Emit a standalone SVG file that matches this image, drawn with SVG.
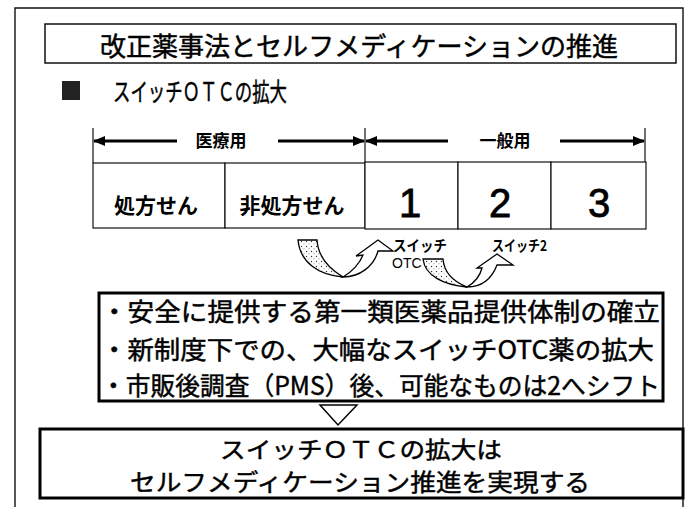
<svg xmlns="http://www.w3.org/2000/svg" width="686" height="507" viewBox="0 0 686 507">
<style>
.jp{font-family:'Noto Sans CJK JP','Noto Sans CJK SC',sans-serif;fill:#000}
.med{stroke:#000;stroke-width:0.45}
.frame{fill:none;stroke:#111;stroke-width:1.4}
.cell{fill:#fff;stroke:#111;stroke-width:1.2}
.thick{fill:#fff;stroke:#000;stroke-width:3}
.arr{stroke:#000;stroke-width:3;fill:none}
.sw{stroke:#000;stroke-width:1.3}
.num{font-family:'Liberation Sans',Arial,sans-serif;font-size:40px;fill:#000;stroke:#000;stroke-width:0.8}
</style>
<defs>
<marker id="ah" viewBox="0 0 12 10" refX="11" refY="5" markerWidth="12" markerHeight="10" markerUnits="userSpaceOnUse" orient="auto-start-reverse">
<path d="M0,0 L12,5 L0,10 Z" fill="#000"/>
</marker>
<pattern id="dots" width="5" height="5" patternUnits="userSpaceOnUse">
<rect width="5" height="5" fill="#fff"/>
<circle cx="1.5" cy="1.5" r="0.7" fill="#333"/>
<circle cx="4" cy="3.8" r="0.5" fill="#666"/>
</pattern>
</defs>
<rect width="686" height="507" fill="#fff"/>
<g id="frame">
<path class="frame" d="M15,520 L15,8 L683,8 L683,520"/>
</g>
<g id="title">
<rect x="45" y="24" width="631" height="39" fill="#fff" stroke="#111" stroke-width="1.5"/>
<text class="jp med" x="359" y="56" font-size="26" text-anchor="middle" textLength="518" lengthAdjust="spacingAndGlyphs">改正薬事法とセルフメディケーションの推進</text>
</g>
<g id="subheading">
<rect x="62" y="81" width="18" height="19" fill="#222"/>
<text class="jp med" x="113" y="101" font-size="25" textLength="174" lengthAdjust="spacingAndGlyphs">スイッチＯＴＣの拡大</text>
</g>
<g id="connectors">
<line x1="93" y1="128" x2="93" y2="163" stroke="#111" stroke-width="1.2"/>
<line x1="365" y1="128" x2="365" y2="163" stroke="#111" stroke-width="1.2"/>
<line x1="645" y1="128" x2="645" y2="163" stroke="#111" stroke-width="1.2"/>
<line class="arr" x1="177" y1="141" x2="94" y2="141" marker-end="url(#ah)"/>
<line class="arr" x1="278" y1="141" x2="364" y2="141" marker-end="url(#ah)"/>
<line class="arr" x1="448" y1="141" x2="366" y2="141" marker-end="url(#ah)"/>
<line class="arr" x1="560" y1="141" x2="644" y2="141" marker-end="url(#ah)"/>
</g>
<g id="label-iryo"><text class="jp" x="221" y="147" font-size="17" font-weight="bold" text-anchor="middle">医療用</text></g>
<g id="label-ippan"><text class="jp" x="505" y="147" font-size="17" font-weight="bold" text-anchor="middle">一般用</text></g>
<g id="cell-shohosen">
<rect class="cell" x="93" y="163" width="132" height="65"/>
<text class="jp" x="156" y="213" font-size="21" font-weight="bold" text-anchor="middle">処方せん</text>
</g>
<g id="cell-hishohosen">
<rect class="cell" x="225" y="163" width="140" height="65"/>
<text class="jp" x="292" y="213" font-size="21" font-weight="bold" text-anchor="middle">非処方せん</text>
</g>
<g id="cell-1">
<rect class="cell" x="365" y="162" width="93" height="67"/>
<text class="num" x="410" y="217" text-anchor="middle">1</text>
</g>
<g id="cell-2">
<rect class="cell" x="458" y="162" width="93" height="67"/>
<text class="num" x="500" y="217" text-anchor="middle">2</text>
</g>
<g id="cell-3">
<rect class="cell" x="551" y="162" width="95" height="67"/>
<text class="num" x="599" y="217" text-anchor="middle">3</text>
</g>
<g id="switch1">
<path class="sw" fill="url(#dots)" d="M298,240 L317,240 C318,256 328,268 343,277 C318,275 300,262 298,240 Z"/>
<path class="sw" fill="#fff" d="M343,277 C352,272 360,263 363,255 L356,256 L378,240 L393,251 L378,251 C374,266 360,277 343,277 Z"/>
<text class="jp" x="393" y="251" font-size="15" font-weight="bold" textLength="54" lengthAdjust="spacingAndGlyphs">スイッチ</text>
<text x="392" y="268" font-family="'Liberation Sans',Arial,sans-serif" font-size="14">OTC</text>
</g>
<g id="switch2">
<path class="sw" fill="url(#dots)" d="M423,259 L443,259 C444,272 452,281 467,287 C444,285 425,276 423,259 Z"/>
<path class="sw" fill="#fff" d="M467,287 C474,283 480,276 482,268 L477,268 L497,254 L513,265 L497,265 C492,278 482,287 467,287 Z"/>
<text class="jp" x="492" y="251" font-size="15" font-weight="bold" textLength="55" lengthAdjust="spacingAndGlyphs">スイッチ2</text>
</g>
<g id="policy-box">
<rect class="thick" x="99" y="293" width="564" height="108"/>
<text class="jp med" x="101" y="321" font-size="25" textLength="559" lengthAdjust="spacingAndGlyphs">・安全に提供する第一類医薬品提供体制の確立</text>
<text class="jp med" x="101" y="359" font-size="25" textLength="553" lengthAdjust="spacingAndGlyphs">・新制度下での、大幅なスイッチOTC薬の拡大</text>
<text class="jp med" x="101" y="395" font-size="25" textLength="559" lengthAdjust="spacingAndGlyphs">・市販後調査（PMS）後、可能なものは2へシフト</text>
</g>
<g id="down-triangle">
<path d="M320,405 L357,405 L338,425 Z" fill="#fff" stroke="#000" stroke-width="1.5"/>
</g>
<g id="conclusion-box">
<rect class="thick" x="40" y="429" width="643" height="69"/>
<text class="jp med" x="361" y="458" font-size="23" text-anchor="middle" textLength="282" lengthAdjust="spacingAndGlyphs">スイッチＯＴＣの拡大は</text>
<text class="jp med" x="360" y="491" font-size="24" text-anchor="middle" textLength="460" lengthAdjust="spacingAndGlyphs">セルフメディケーション推進を実現する</text>
</g>
</svg>
